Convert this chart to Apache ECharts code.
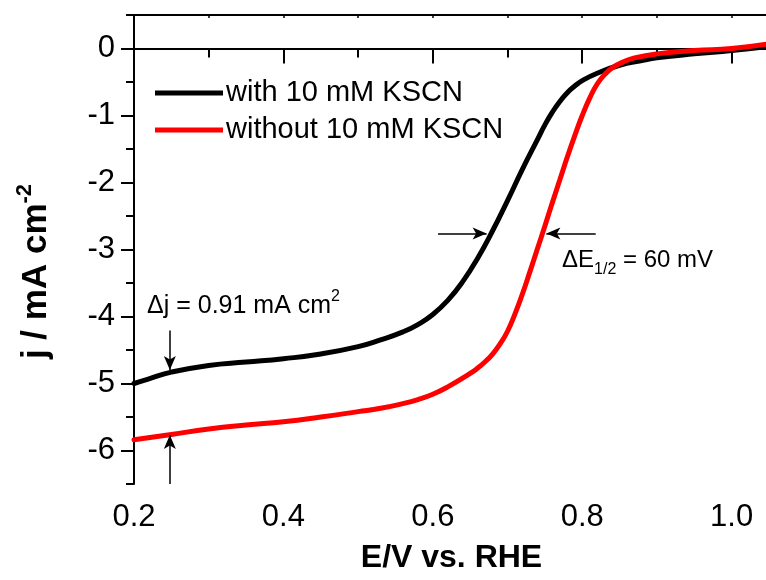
<!DOCTYPE html>
<html>
<head>
<meta charset="utf-8">
<script src="https://cdn.jsdelivr.net/npm/echarts@6/dist/echarts.min.js"></script>
<style>
  html, body { margin: 0; padding: 0; background: #fff; }
  #chart { width: 766px; height: 580px; }
</style>
</head>
<body>
<div id="chart"></div>
<script>
// potential (V vs RHE) and current density (mA cm-2)
var eWith = [0.20, 0.22, 0.25, 0.30, 0.35, 0.40, 0.45, 0.50, 0.53, 0.56, 0.58, 0.60, 0.62, 0.64, 0.66, 0.68, 0.70, 0.72, 0.74, 0.75, 0.76, 0.77, 0.78, 0.79, 0.80, 0.82, 0.85, 0.88, 0.90, 0.95, 1.00, 1.05];
var jWith = [-5.00, -4.93, -4.83, -4.73, -4.68, -4.63, -4.56, -4.45, -4.35, -4.23, -4.12, -3.97, -3.76, -3.48, -3.13, -2.72, -2.27, -1.80, -1.36, -1.14, -0.95, -0.79, -0.66, -0.56, -0.48, -0.37, -0.25, -0.18, -0.14, -0.08, -0.03, 0.03];

var eWithout = [0.20, 0.25, 0.30, 0.35, 0.40, 0.45, 0.50, 0.53, 0.56, 0.58, 0.60, 0.62, 0.65, 0.66, 0.67, 0.68, 0.69, 0.70, 0.71, 0.72, 0.73, 0.74, 0.75, 0.76, 0.77, 0.78, 0.79, 0.80, 0.81, 0.82, 0.83, 0.84, 0.855, 0.87, 0.90, 0.95, 1.00, 1.05];
var jWithout = [-5.84, -5.76, -5.68, -5.62, -5.57, -5.50, -5.42, -5.37, -5.30, -5.24, -5.16, -5.05, -4.85, -4.77, -4.675, -4.56, -4.41, -4.22, -3.96, -3.66, -3.33, -2.99, -2.65, -2.30, -1.96, -1.62, -1.30, -1.00, -0.74, -0.53, -0.39, -0.29, -0.20, -0.14, -0.08, -0.03, 0.00, 0.07];

var seriesNames = ['with 10 mM KSCN', 'without 10 mM KSCN'];

var xMajor = [0.2, 0.4, 0.6, 0.8, 1.0];
var xMinor = [0.3, 0.5, 0.7, 0.9];
var xTop = [0.3, 0.4, 0.5, 0.6, 0.7, 0.8, 0.9, 1.0];
var yMajor = [-6, -5, -4, -3, -2, -1, 0];
var yMinor = [-6.5, -5.5, -4.5, -3.5, -2.5, -1.5, -0.5, 0.5];

// annotation arrows: [from, to] in data units
var arrows = [
  [[0.248, -4.21], [0.248, -4.80]],
  [[0.248, -6.5], [0.248, -5.77]],
  [[0.607, -2.76], [0.672, -2.76]],
  [[0.818, -2.76], [0.752, -2.76]]
];

function pairs(xs, ys) {
  return xs.map(function (x, i) { return [x, ys[i]]; });
}

var font = 'Liberation Sans, Arial, sans-serif';
var axisColor = '#000';

var myChart = echarts.init(document.getElementById('chart'));

var option = {
  animation: false,
  backgroundColor: '#fff',
  textStyle: { fontFamily: font },
  grid: { left: 134, right: -3, top: 15, bottom: 96, outerBoundsMode: 'none' },
  legend: {
    orient: 'vertical',
    left: 150,
    top: 73,
    data: seriesNames,
    icon: 'rect',
    itemWidth: 68,
    itemHeight: 5,
    itemGap: 7,
    textStyle: { fontSize: 29, color: '#000', fontFamily: font, lineHeight: 30, padding: [0, 0, 0, -2] }
  },
  xAxis: [
    {
      type: 'value', position: 'bottom', min: 0.2, max: 1.05,
      axisLine: { lineStyle: { color: axisColor, width: 2 } },
      axisTick: { customValues: xMajor, length: 15, lineStyle: { color: axisColor, width: 2 } },
      axisLabel: {
        customValues: xMajor, fontSize: 31, color: '#000', margin: 18,
        formatter: function (v) { return v.toFixed(1); }
      },
      splitLine: { show: false },
      name: 'E/V vs. RHE', nameLocation: 'middle', nameGap: 58,
      nameTextStyle: { fontSize: 32, fontWeight: 'bold', color: '#000' }
    },
    {
      type: 'value', position: 'bottom', min: 0.2, max: 1.05,
      axisLine: { show: false },
      axisTick: { customValues: xMinor, length: 9, lineStyle: { color: axisColor, width: 2 } },
      axisLabel: { show: false },
      splitLine: { show: false }
    },
    {
      type: 'value', position: 'top', min: 0.2, max: 1.05,
      axisLine: { lineStyle: { color: axisColor, width: 2 } },
      axisTick: { inside: true, customValues: xTop, length: 3, lineStyle: { color: axisColor, width: 1.5 } },
      axisLabel: { show: false },
      splitLine: { show: false }
    }
  ],
  yAxis: [
    {
      type: 'value', position: 'left', min: -6.5, max: 0.5,
      axisLine: { lineStyle: { color: axisColor, width: 2 } },
      axisTick: { customValues: yMajor, length: 13, lineStyle: { color: axisColor, width: 2 } },
      axisLabel: { customValues: yMajor, fontSize: 31, color: '#000', margin: 19 },
      splitLine: { show: false },
      name: '{a|j / mA cm}{s|-2}', nameLocation: 'middle', nameGap: 80,
      nameTextStyle: {
        color: '#000',
        padding: [0, 44, 0, 0],
        rich: {
          a: { fontSize: 35, fontWeight: 'bold', fontFamily: font, color: '#000', lineHeight: 42, verticalAlign: 'bottom' },
          s: { fontSize: 22, fontWeight: 'bold', fontFamily: font, color: '#000', lineHeight: 42, verticalAlign: 'top', padding: [2, 0, 0, 0] }
        }
      }
    },
    {
      type: 'value', position: 'left', min: -6.5, max: 0.5,
      axisLine: { show: false },
      axisTick: { customValues: yMinor, length: 8, lineStyle: { color: axisColor, width: 2 } },
      axisLabel: { show: false },
      splitLine: { show: false }
    }
  ],
  series: [
    {
      name: seriesNames[0], type: 'line', data: pairs(eWith, jWith),
      showSymbol: false, smooth: true,
      lineStyle: { color: '#000', width: 5, cap: 'round' },
      itemStyle: { color: '#000' },
      markLine: {
        silent: true,
        symbol: ['none', 'arrow'],
        symbolSize: [9, 14],
        label: { show: false },
        lineStyle: { color: '#000', width: 1.5, type: 'solid' },
        data: arrows.map(function (a) {
          return [{ coord: a[0] }, { coord: a[1] }];
        })
      }
    },
    {
      name: seriesNames[1], type: 'line', data: pairs(eWithout, jWithout),
      showSymbol: false, smooth: true,
      lineStyle: { color: '#ff0000', width: 5, cap: 'round' },
      itemStyle: { color: '#ff0000' }
    }
  ],
  graphic: [
    {
      type: 'text', left: 147, top: 289,
      style: {
        text: '{a|Δj = 0.91 mA cm}{s|2}',
        rich: {
          a: { fontSize: 25, fontFamily: font, fill: '#000', lineHeight: 30, verticalAlign: 'bottom' },
          s: { fontSize: 16, fontFamily: font, fill: '#000', lineHeight: 30, verticalAlign: 'top' }
        }
      }
    },
    {
      type: 'text', left: 562, top: 248,
      style: {
        text: '{a|ΔE}{s|1/2}{a| = 60 mV}',
        rich: {
          a: { fontSize: 24, fontFamily: font, fill: '#000', lineHeight: 30, verticalAlign: 'top' },
          s: { fontSize: 16, fontFamily: font, fill: '#000', lineHeight: 30, verticalAlign: 'bottom' }
        }
      }
    }
  ]
};

myChart.setOption(option);
</script>
</body>
</html>
